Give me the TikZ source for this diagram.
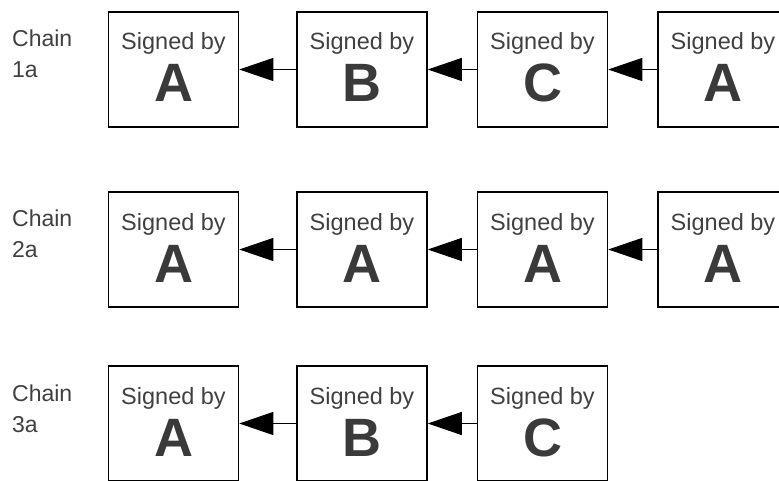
\documentclass[tikz,border=0pt]{standalone}
\usepackage{fontspec}
\setmainfont{Liberation Sans}
\usetikzlibrary{arrows.meta}
\definecolor{txt}{HTML}{404040}
\begin{document}
\begin{tikzpicture}[x=1pt,y=-1pt,
  sbox/.style={draw=black,line width=1.5pt,minimum width=130pt,minimum height=115pt,inner sep=0pt},
  lbl/.style={font=\fontsize{23}{23}\selectfont,text=txt,anchor=base west,inner sep=0pt},
  sig/.style={font=\fontsize{23.5}{23.5}\selectfont,text=txt,anchor=base,inner sep=0pt},
  big/.style={font=\fontsize{54}{54}\selectfont\bfseries,text=txt!90!black,anchor=base,inner sep=0pt},
  conn/.style={draw=black,line width=1pt,-{Triangle[length=34pt,width=23pt]}}]
\useasboundingbox (0,0) rectangle (779,481);
\def\xs{{173.5,362,542.5,723}}
% rows: top of boxes
\foreach \r/\top/\lab/\letters/\n in {1/12/1a/{A,B,C,A}/4, 2/192/2a/{A,A,A,A}/4, 3/366/3a/{A,B,C}/3}{
  \node[lbl] (ch\r) at (12,\top+35) {Chain};
  \node[lbl] (cl\r) at (12,\top+66) {\lab};
  \foreach \L [count=\i] in \letters {
    \pgfmathsetmacro{\cx}{\xs[\i-1]}
    \node[sbox] (b\r\i) at (\cx,\top+57.5) {};
    \node[sig] (s\r\i) at (\cx,\top+38) {Signed by};
    \node[big] (L\r\i) at (\cx,\top+90) {\L};
  }
}
\foreach \r/\n in {1/4,2/4,3/3}{
  \foreach \i in {2,...,\n}{
    \pgfmathtruncatemacro{\j}{\i-1}
    \draw[conn] (b\r\i.west) -- (b\r\j.east);
  }
}
\end{tikzpicture}
\end{document}
